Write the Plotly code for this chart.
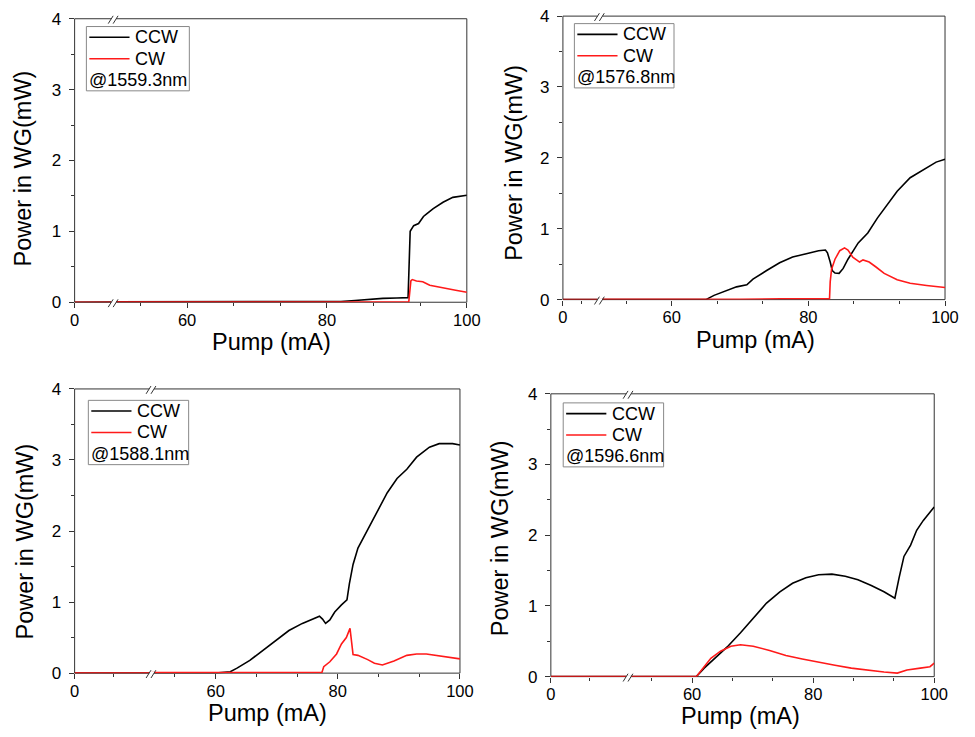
import plotly.graph_objects as go

# ---------------- data ----------------
wavelength_labels = ["@1559.3nm", "@1576.8nm", "@1588.1nm", "@1596.6nm"]
series_names = ["CCW", "CW"]
series_colors = ["black", "#ff1a1a"]

p1_ccw_x = [0, 50, 80, 82, 84, 86, 88, 90, 91.6, 91.9, 92.4, 93.1, 93.8, 94.3, 95.2, 96.6, 98.0, 100]
p1_ccw_y = [0, 0, 0, 0.01, 0.025, 0.045, 0.055, 0.06, 0.065, 1.0, 1.08, 1.11, 1.21, 1.25, 1.32, 1.41, 1.48, 1.51]
p1_cw_x = [0, 50, 80, 91.7, 92.0, 92.2, 92.8, 93.7, 94.7, 96.5, 98.4, 100]
p1_cw_y = [0, 0, 0.005, 0.005, 0.30, 0.32, 0.30, 0.29, 0.24, 0.21, 0.17, 0.14]

p2_ccw_x = [0, 50, 65.0, 66.2, 67.6, 69.5, 71.0, 71.9, 73.9, 75.8, 77.7, 79.6, 81.5, 82.5, 82.8, 83.2, 83.5,
            83.9, 84.5, 85.1, 85.8, 87.3, 88.7, 90.1, 91.6, 93.0, 94.9, 96.8, 98.7, 100]
p2_ccw_y = [0, 0, 0, 0.06, 0.11, 0.18, 0.21, 0.29, 0.41, 0.52, 0.60, 0.65, 0.69, 0.70, 0.66, 0.53, 0.41,
            0.375, 0.37, 0.44, 0.57, 0.80, 0.94, 1.15, 1.35, 1.53, 1.72, 1.83, 1.94, 1.98]
p2_cw_x = [0, 50, 70, 76, 83.1, 83.2, 83.4, 83.9, 84.6, 85.3, 85.8, 86.5, 87.5, 88.0, 88.9, 89.9, 91.1,
           93.0, 94.9, 97.3, 100]
p2_cw_y = [0, 0, 0.005, 0.012, 0.01, 0.25, 0.43, 0.57, 0.69, 0.73, 0.70, 0.60, 0.53, 0.56, 0.53, 0.46, 0.37,
           0.28, 0.23, 0.20, 0.17]

p3_ccw_x = [0, 50, 60, 62.4, 63.5, 65.6, 67.8, 69.9, 72.0, 74.2, 75.8, 77.0, 77.5, 78.0, 78.7, 79.5, 80.6,
            81.5, 81.9, 82.5, 83.3, 84.4, 85.4, 86.8, 88.1, 89.7, 91.3, 92.9, 95.0, 96.6, 98.8, 100]
p3_ccw_y = [0, 0, 0, 0.02, 0.07, 0.18, 0.32, 0.46, 0.60, 0.70, 0.76, 0.80, 0.76, 0.70, 0.75, 0.86, 0.96,
            1.03, 1.26, 1.53, 1.76, 1.94, 2.10, 2.33, 2.54, 2.74, 2.87, 3.04, 3.18, 3.23, 3.23, 3.21]
p3_cw_x = [0, 50, 70, 77.4, 77.7, 78.7, 79.8, 80.6, 81.4, 82.0, 82.5, 83.3, 84.9, 86.0, 87.3, 89.2, 91.3,
           92.9, 94.5, 96.6, 98.8, 100]
p3_cw_y = [0, 0, 0.003, 0.01, 0.09, 0.16, 0.27, 0.41, 0.50, 0.63, 0.26, 0.25, 0.19, 0.14, 0.115, 0.17, 0.25,
           0.27, 0.27, 0.24, 0.21, 0.20]

p4_ccw_x = [0, 50, 60.7, 62.0, 63.7, 65.8, 68.0, 70.1, 72.3, 74.5, 76.6, 78.8, 80.9, 83.1, 85.3, 87.4, 89.6,
            91.7, 93.5, 94.2, 95.0, 96.1, 97.1, 98.2, 99.3, 100]
p4_ccw_y = [0, 0, 0, 0.12, 0.26, 0.42, 0.62, 0.83, 1.04, 1.20, 1.32, 1.40, 1.44, 1.45, 1.42, 1.37, 1.29,
            1.20, 1.11, 1.40, 1.70, 1.86, 2.07, 2.21, 2.32, 2.40]
p4_cw_x = [0, 50, 60.7, 61.8, 63.1, 64.7, 66.4, 68.0, 70.1, 72.8, 75.5, 78.2, 80.9, 83.6, 86.3, 89.0, 91.7,
           93.9, 95.5, 97.7, 99.3, 100]
p4_cw_y = [0, 0, 0, 0.12, 0.26, 0.36, 0.43, 0.45, 0.43, 0.37, 0.30, 0.25, 0.20, 0.16, 0.12, 0.09, 0.065,
           0.05, 0.095, 0.12, 0.14, 0.19]

x_left_ticks = [0]
x_right_ticks = [60, 80, 100]
x_right_minor = [53.333, 66.667, 73.333, 86.667, 93.333]
y_ticks = [0, 1, 2, 3, 4]

panels_data = [
    (p1_ccw_x, p1_ccw_y, p1_cw_x, p1_cw_y),
    (p2_ccw_x, p2_ccw_y, p2_cw_x, p2_cw_y),
    (p3_ccw_x, p3_ccw_y, p3_cw_x, p3_cw_y),
    (p4_ccw_x, p4_ccw_y, p4_cw_x, p4_cw_y),
]

# ---------------- layout geometry (pixels in the 975x737 window) ----------------
W, H = 975, 737
FONT = "Liberation Sans"
AX = "#333333"

geom = [
    dict(x0=71, xb=110.8, x1=471, y0=10, y1=301, leg=(83, 18, 188, 84), yt=(18, 164), xt=(272, 342), lminor=False),
    dict(x0=569, xb=606.7, x1=958.7, y0=7.3, y1=298.3, leg=(580.7, 15, 682.3, 81), yt=(519, 158), xt=(765, 340), lminor=True),
    dict(x0=71, xb=149.4, x1=464, y0=390, y1=681.7, leg=(85, 401.7, 187.3, 467.7), yt=(20, 547), xt=(268, 722.5), lminor=True),
    dict(x0=556.7, xb=635.9, x1=947.7, y0=395, y1=685.3, leg=(569.3, 404.3, 671.7, 470), yt=(505, 543), xt=(750, 725.5), lminor=True),
]


def px(x):
    return x / W


def py(y):
    return 1 - y / H


fig = go.Figure()
layout = dict(
    width=W, height=H,
    margin=dict(l=0, r=0, t=0, b=0),
    paper_bgcolor="white", plot_bgcolor="white",
    font=dict(family=FONT, size=17, color="black"),
    showlegend=False,
)
shapes = []
annotations = []

for i, (cx, cy, wx, wy) in enumerate(panels_data):
    g = geom[i]
    xl = 2 * i + 1
    xr = 2 * i + 2
    yi = i + 1
    xl_name = "x" if xl == 1 else f"x{xl}"
    xr_name = f"x{xr}"
    y_name = "y" if yi == 1 else f"y{yi}"

    # traces on both segments of the broken axis
    for xa in (xl_name, xr_name):
        fig.add_trace(go.Scatter(x=cx, y=cy, mode="lines", name=series_names[0],
                                 line=dict(color=series_colors[0], width=1.6), xaxis=xa, yaxis=y_name,
                                 hoverinfo="skip"))
        fig.add_trace(go.Scatter(x=wx, y=wy, mode="lines", name=series_names[1],
                                 line=dict(color=series_colors[1], width=1.6), xaxis=xa, yaxis=y_name,
                                 hoverinfo="skip"))

    common_x = dict(showgrid=False, zeroline=False, showline=False, ticks="outside",
                    ticklen=5, tickwidth=1, tickcolor=AX, anchor=y_name, fixedrange=True,
                    ticklabelstandoff=-2,
                    tickfont=dict(size=16.5, family=FONT, color="black"))
    layout["xaxis" if xl == 1 else f"xaxis{xl}"] = dict(
        domain=[px(g["x0"]), px(g["xb"])], range=[0, 10], tickmode="array",
        tickvals=x_left_ticks, ticktext=[str(v) for v in x_left_ticks],
        minor=dict(tickmode="array", tickvals=[5] if g["lminor"] else [], ticks="outside",
                   ticklen=3, tickcolor=AX),
        **common_x)
    layout[f"xaxis{xr}"] = dict(
        domain=[px(g["xb"]), px(g["x1"])], range=[49.5, 100], tickmode="array",
        tickvals=x_right_ticks, ticktext=[str(v) for v in x_right_ticks],
        minor=dict(tickmode="array", tickvals=x_right_minor, ticks="outside", ticklen=3, tickcolor=AX),
        **common_x)
    layout["yaxis" if yi == 1 else f"yaxis{yi}"] = dict(
        domain=[py(g["y1"]), py(g["y0"])], range=[0, 4], anchor=xl_name,
        tickmode="array", tickvals=y_ticks, ticktext=[str(v) for v in y_ticks],
        showgrid=False, zeroline=False, showline=False, ticks="outside", ticklen=5,
        tickwidth=1, tickcolor=AX, fixedrange=True, ticklabelstandoff=4,
        minor=dict(dtick=0.5, ticks="outside", ticklen=3, tickcolor=AX),
        tickfont=dict(size=17, family=FONT, color="black"))

    # frame
    shapes.append(dict(type="rect", xref="paper", yref="paper", layer="below",
                       x0=px(g["x0"]), x1=px(g["x1"]), y0=py(g["y1"]), y1=py(g["y0"]),
                       line=dict(color=AX, width=1)))
    # axis break marks (top and bottom)
    xb = g["xb"]
    for yy in (g["y0"], g["y1"]):
        shapes.append(dict(type="rect", xref="paper", yref="paper", layer="above",
                           x0=px(xb - 2.4), x1=px(xb + 2.6), y0=py(yy + 1.5), y1=py(yy - 1.5),
                           fillcolor="white", line=dict(width=0)))
        for off in (-5.5, -0.5):
            shapes.append(dict(type="line", xref="paper", yref="paper", layer="above",
                               x0=px(xb + off), y0=py(yy + 5), x1=px(xb + off + 5), y1=py(yy - 3),
                               line=dict(color=AX, width=1)))

    # legend box with line samples and labels
    lx0, ly0, lx1, ly1 = g["leg"]
    shapes.append(dict(type="rect", xref="paper", yref="paper", layer="above",
                       x0=px(lx0), x1=px(lx1), y0=py(ly1), y1=py(ly0),
                       fillcolor="white", line=dict(color="#888888", width=1)))
    for k in range(2):
        ry = ly0 + 11 + 22 * k
        shapes.append(dict(type="line", xref="paper", yref="paper", layer="above",
                           x0=px(lx0 + 3), x1=px(lx0 + 44), y0=py(ry), y1=py(ry),
                           line=dict(color=series_colors[k], width=1.6)))
        annotations.append(dict(text=series_names[k], xref="paper", yref="paper",
                                x=px(lx0 + 48), y=py(ry), xanchor="left", yanchor="middle",
                                showarrow=False, font=dict(size=18, family=FONT, color="black")))
    annotations.append(dict(text=wavelength_labels[i], xref="paper", yref="paper",
                            x=px(lx0 + 1), y=py(ly0 + 55), xanchor="left", yanchor="middle",
                            showarrow=False, font=dict(size=18, family=FONT, color="black")))

    # axis titles
    annotations.append(dict(text="Power in WG(mW)", xref="paper", yref="paper",
                            x=px(g["yt"][0]), y=py(g["yt"][1]), textangle=-90,
                            xanchor="center", yanchor="middle", showarrow=False,
                            font=dict(size=23.5, family=FONT, color="black")))
    annotations.append(dict(text="Pump (mA)", xref="paper", yref="paper",
                            x=px(g["xt"][0]), y=py(g["xt"][1]),
                            xanchor="center", yanchor="middle", showarrow=False,
                            font=dict(size=23.5, family=FONT, color="black")))

layout["shapes"] = shapes
layout["annotations"] = annotations
fig.update_layout(**layout)
fig.write_html("out.html", config={"displayModeBar": False},
               post_script="document.body.style.margin='0px';document.body.style.overflow='hidden';")
